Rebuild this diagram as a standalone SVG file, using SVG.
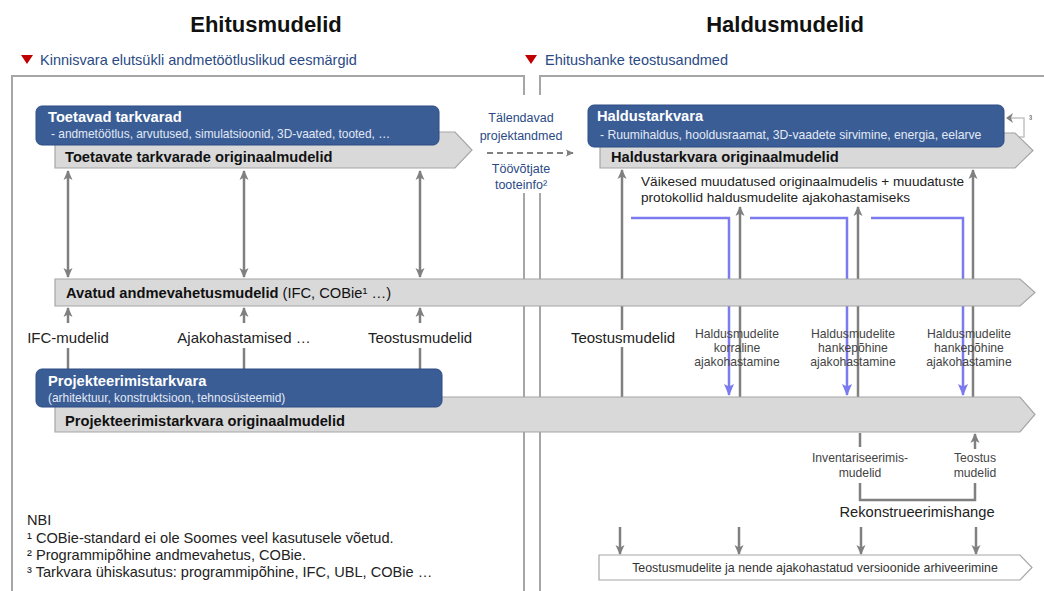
<svg xmlns="http://www.w3.org/2000/svg" width="1044" height="591" viewBox="0 0 1044 591">
<defs>
<style>
text{font-family:"Liberation Sans",Arial,sans-serif}
.h1{font-size:22px;font-weight:bold;fill:#111;text-anchor:middle}
.sub{font-size:14.5px;fill:#2a4a85}
.frame{fill:none;stroke:#a6a6a6;stroke-width:2}
.box{fill:#3a5d96;stroke:#2d4d82;stroke-width:1}
.bt{font-size:14.7px;font-weight:bold;fill:#fff}
.bs{font-size:11.9px;fill:#e3e9f4}
.bar{fill:#d9d9d9;stroke:#a6a6a6;stroke-width:1.2}
.wbar{fill:#fff;stroke:#a6a6a6;stroke-width:1.2}
.bart{font-size:14.7px;font-weight:bold;fill:#111}
.ln{stroke:#808080;stroke-width:2.5;fill:none}
.bl{stroke:#7b7bef;stroke-width:2.5;fill:none}
.thin{stroke:#c4c4c4;stroke-width:1.5;fill:none}
.lbl{font-size:15px;fill:#222;text-anchor:middle}
.sm{font-size:12.2px;fill:#444;text-anchor:middle}
.mid{font-size:12.5px;fill:#2a4a85;text-anchor:middle}
.fn{font-size:14.6px;fill:#222}
.tri{fill:#c00000}
</style>
<marker id="ag" markerUnits="userSpaceOnUse" markerWidth="10" markerHeight="10" viewBox="0 0 10 10" refX="9" refY="5" orient="auto-start-reverse"><path d="M0,0.5 L10,5 L0,9.5 L2.5,5 z" fill="#808080"/></marker>
<marker id="ab" markerUnits="userSpaceOnUse" markerWidth="12" markerHeight="10" viewBox="0 0 12 10" refX="11" refY="5" orient="auto"><path d="M0,0 L12,5 L0,10 L2.5,5 z" fill="#7b7bef"/></marker>
<marker id="as" markerUnits="userSpaceOnUse" markerWidth="8" markerHeight="8" viewBox="0 0 10 10" refX="9" refY="5" orient="auto"><path d="M0,0.5 L10,5 L0,9.5 L2.5,5 z" fill="#808080"/></marker>
</defs>
<rect width="1044" height="591" fill="#fff"/>

<g id="headers">
<text class="h1" x="266" y="32">Ehitusmudelid</text>
<text class="h1" x="785" y="32">Haldusmudelid</text>
<path class="tri" d="M21,55 H33 L27,64 z"/>
<text class="sub" x="40" y="65">Kinnisvara elutsükli andmetöötluslikud eesmärgid</text>
<path class="tri" d="M525,55 H537 L531,64 z"/>
<text class="sub" x="545" y="65">Ehitushanke teostusandmed</text>
</g>

<g id="frames">
<rect class="frame" x="12" y="76" width="512" height="530"/>
<rect class="frame" x="540" y="76" width="520" height="530"/>
<rect x="478" y="95" width="92" height="98" fill="#fff"/>
</g>

<g id="connectors">
<line class="ln" x1="68" y1="171" x2="68" y2="277" marker-start="url(#ag)" marker-end="url(#ag)"/>
<line class="ln" x1="244" y1="171" x2="244" y2="277" marker-start="url(#ag)" marker-end="url(#ag)"/>
<line class="ln" x1="420" y1="171" x2="420" y2="277" marker-start="url(#ag)" marker-end="url(#ag)"/>
<line class="ln" x1="68" y1="323" x2="68" y2="308" marker-end="url(#ag)"/>
<line class="ln" x1="244" y1="323" x2="244" y2="308" marker-end="url(#ag)"/>
<line class="ln" x1="420" y1="323" x2="420" y2="308" marker-end="url(#ag)"/>
<line class="ln" x1="68" y1="348" x2="68" y2="369"/>
<line class="ln" x1="244" y1="348" x2="244" y2="369"/>
<line class="ln" x1="420" y1="348" x2="420" y2="369"/>
<line x1="487" y1="153" x2="573" y2="153" stroke="#808080" stroke-width="2" stroke-dasharray="6,4" marker-end="url(#as)"/>
<line class="ln" x1="622" y1="397" x2="622" y2="170" marker-end="url(#ag)"/>
<line class="ln" x1="740" y1="397" x2="740" y2="207" marker-end="url(#ag)"/>
<line class="ln" x1="858" y1="397" x2="858" y2="207" marker-end="url(#ag)"/>
<line class="ln" x1="973" y1="397" x2="973" y2="170" marker-end="url(#ag)"/>
<path class="bl" d="M631,218 H729 V395" marker-end="url(#ab)"/>
<path class="bl" d="M750,218 H847 V395" marker-end="url(#ab)"/>
<path class="bl" d="M871,218 H963 V395" marker-end="url(#ab)"/>
<line class="ln" x1="860" y1="433" x2="860" y2="447"/>
<line class="ln" x1="975" y1="449" x2="975" y2="434" marker-end="url(#ag)"/>
<path class="ln" d="M860,483 V500 H975 V483"/>
<line class="ln" x1="620" y1="527" x2="620" y2="554" marker-end="url(#ag)"/>
<line class="ln" x1="739" y1="527" x2="739" y2="554" marker-end="url(#ag)"/>
<line class="ln" x1="861" y1="527" x2="861" y2="554" marker-end="url(#ag)"/>
<line class="ln" x1="976" y1="527" x2="976" y2="554" marker-end="url(#ag)"/>
<path class="thin" d="M1024,128 V118 H1010"/>
<path class="thin" d="M1024,128 V137 H1010"/>
<path d="M1006,118 L1013,113 L1011,118 L1013,123 z" fill="#808080"/>
<path d="M1006,137 L1013,132 L1011,137 L1013,142 z" fill="#808080"/>
<text x="1029" y="122" font-size="9" fill="#444">³</text>
</g>

<g id="toetavate-originaal">
<polygon class="bar" points="55,132 455,132 472,150 455,168 55,168"/>
<text class="bart" x="65" y="162">Toetavate tarkvarade originaalmudelid</text>
</g>
<g id="toetavad-tarkvarad">
<rect class="box" x="36" y="106" width="403" height="39" rx="6"/>
<text class="bt" x="48" y="122">Toetavad tarkvarad</text>
<text class="bs" x="51" y="138">- andmetöötlus, arvutused, simulatsioonid, 3D-vaated, tooted, …</text>
</g>

<g id="haldustarkvara-originaal">
<polygon class="bar" points="600,133 1015,133 1033,150.5 1015,168 600,168"/>
<text class="bart" x="611" y="162">Haldustarkvara originaalmudelid</text>
</g>
<g id="haldustarkvara">
<rect class="box" x="588" y="105" width="416" height="42" rx="6"/>
<text class="bt" x="597" y="121">Haldustarkvara</text>
<text class="bs" x="600" y="139" style="font-size:12.2px">- Ruumihaldus, hooldusraamat, 3D-vaadete sirvimine, energia, eelarve</text>
</g>

<g id="middle-text">
<text class="mid" x="521" y="122">Tälendavad</text>
<text class="mid" x="521" y="140">projektandmed</text>
<text class="mid" x="521" y="173">Töövõtjate</text>
<text class="mid" x="521" y="189">tooteinfo²</text>
</g>

<g id="muudatused">
<text x="641" y="186" font-size="13.6" fill="#222">Väikesed muudatused originaalmudelis + muudatuste</text>
<text x="641" y="202" font-size="13.6" fill="#222">protokollid haldusmudelite ajakohastamiseks</text>
</g>

<g id="avatud">
<polygon class="bar" points="55,279 1020,279 1035,292.5 1020,306 55,306"/>
<text x="66" y="298" font-size="14.7" fill="#111"><tspan font-weight="bold">Avatud andmevahetusmudelid</tspan> (IFC, COBie¹ …)</text>
</g>

<g id="labels-left">
<text class="lbl" x="68" y="343">IFC-mudelid</text>
<text class="lbl" x="244" y="343">Ajakohastamised …</text>
<text class="lbl" x="420" y="343">Teostusmudelid</text>
</g>

<g id="labels-right">
<rect x="570" y="330" width="106" height="17" fill="#fff"/>
<text class="lbl" x="623" y="343">Teostusmudelid</text>
<text class="sm" x="737" y="338">Haldusmudelite</text>
<text class="sm" x="737" y="352">korraline</text>
<text class="sm" x="737" y="366">ajakohastamine</text>
<text class="sm" x="853" y="338">Haldusmudelite</text>
<text class="sm" x="853" y="352">hankepõhine</text>
<text class="sm" x="853" y="366">ajakohastamine</text>
<text class="sm" x="969" y="338">Haldusmudelite</text>
<text class="sm" x="969" y="352">hankepõhine</text>
<text class="sm" x="969" y="366">ajakohastamine</text>
</g>

<g id="projekteerimis-originaal">
<polygon class="bar" points="55,397 1020,397 1035,414.5 1020,432 55,432"/>
<text class="bart" x="65" y="426">Projekteerimistarkvara originaalmudelid</text>
</g>
<g id="projekteerimistarkvara">
<rect class="box" x="36" y="369" width="406" height="38" rx="6"/>
<text class="bt" x="48" y="386">Projekteerimistarkvara</text>
<text class="bs" x="48" y="402">(arhitektuur, konstruktsioon, tehnosüsteemid)</text>
</g>

<g id="rekonstrueerimine">
<text class="sm" x="860" y="462">Inventariseerimis-</text>
<text class="sm" x="860" y="477">mudelid</text>
<text class="sm" x="975" y="462">Teostus</text>
<text class="sm" x="975" y="477">mudelid</text>
<text x="917" y="517" font-size="14.7" fill="#222" text-anchor="middle">Rekonstrueerimishange</text>
</g>

<g id="arhiveerimine">
<polygon class="wbar" points="599,555 1020,555 1032,567.5 1020,580 599,580"/>
<text x="815" y="572" font-size="12.4" fill="#333" text-anchor="middle">Teostusmudelite ja nende ajakohastatud versioonide arhiveerimine</text>
</g>

<g id="footnotes">
<text class="fn" x="27" y="525">NBI</text>
<text class="fn" x="27" y="543">¹ COBie-standard ei ole Soomes veel kasutusele võetud.</text>
<text class="fn" x="27" y="560">² Programmipõhine andmevahetus, COBie.</text>
<text class="fn" x="27" y="577">³ Tarkvara ühiskasutus: programmipõhine, IFC, UBL, COBie …</text>
</g>
</svg>
